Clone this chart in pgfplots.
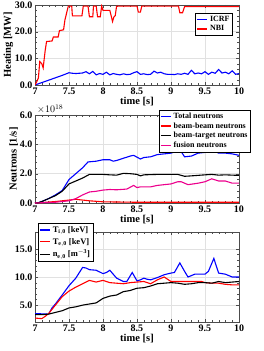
\documentclass[border=0pt]{standalone}
\usepackage{pgfplots}
\pgfplotsset{compat=1.18}
\usepackage{fontspec}
\setmainfont{Liberation Serif}
\definecolor{gridgray}{RGB}{225,225,225}
\pgfplotsset{
  every axis/.append style={
    scale only axis, width=204pt,
    xmin=7, xmax=10,
    xtick={7,7.5,8,8.5,9,9.5,10},
    xticklabels={7,7.5,8,8.5,9,9.5,10},
    minor x tick num=4, minor y tick num=4,
    grid=major, major grid style={gridgray, line width=0.6pt},
    axis line style={black!70, line width=0.6pt},
    tick style={black!70},
    major tick length=3pt, minor tick length=1.6pt,
    tick align=inside,
    font=\fontsize{10}{11}\selectfont\bfseries,
    ticklabel style={font=\fontsize{10}{11}\selectfont\bfseries},
    label style={font=\fontsize{10.5}{12}\selectfont\bfseries},
    xlabel={time [s]},
    xlabel style={yshift=4pt},
    xticklabel style={yshift=1pt},
    yticklabel style={xshift=1pt, /pgf/number format/.cd, fixed, fixed zerofill, precision=1},
    /pgf/number format/assume math mode=true,
    legend style={draw=black, line width=0.5pt, fill=white, inner sep=1pt, row sep=-1.5pt,
      font=\fontsize{8}{9}\selectfont\bfseries, cells={anchor=west}},
    legend image post style={line width=1.2pt},
    legend image code/.code={\draw[#1] (0cm,0cm) -- (0.36cm,0cm);},
    every axis plot/.append style={line width=1.1pt, mark=none},
  }
}
\begin{document}
\begin{tikzpicture}
\useasboundingbox (0,0) rectangle (264pt,351pt);
% ---------- top
\begin{axis}[at={(35pt,266pt)}, anchor=south west, height=80pt,
  ymin=0, ymax=30, ytick={0,10,20,30},
  ylabel={Heating [MW]}, ylabel style={yshift=-5pt},
  legend style={at={(0.97,0.9)}, anchor=north east}]
\addplot[blue] coordinates {
(7.0,0.0) (7.1,0.9) (7.2,1.8) (7.3,2.7) (7.4,3.6) (7.5,4.6) (7.55,4.4) (7.6,4.3) (7.65,4.4) (7.7,4.5) (7.75,5.0) (7.8,4.2) (7.85,5.1) (7.9,3.8) (7.95,4.3) (8.0,4.0) (8.05,4.8) (8.1,3.8) (8.15,4.3) (8.2,4.0) (8.25,3.8) (8.3,4.2) (8.35,3.9) (8.4,4.0) (8.45,4.6) (8.5,5.0) (8.55,4.0) (8.6,4.2) (8.65,3.9) (8.7,4.0) (8.75,5.2) (8.8,4.5) (8.85,4.8) (8.9,4.2) (8.95,4.0) (9.0,4.0) (9.05,3.9) (9.1,4.2) (9.15,4.0) (9.2,4.4) (9.25,4.0) (9.3,5.5) (9.35,4.2) (9.4,4.5) (9.45,4.2) (9.5,5.0) (9.55,4.0) (9.6,4.8) (9.65,4.4) (9.7,5.8) (9.75,4.5) (9.8,4.8) (9.85,4.2) (9.9,5.3) (9.95,4.0) (10.0,4.3)};
\addlegendentry{ICRF}
\addplot[red] coordinates {
(7.0,0.0) (7.03,1.5) (7.05,2.6) (7.07,8.8) (7.1,8.0) (7.12,6.4) (7.15,13.0) (7.17,16.3) (7.25,16.5) (7.27,18.0) (7.34,18.0) (7.36,20.4) (7.42,20.7) (7.44,24.4) (7.49,29.6) (7.54,29.6) (7.55,25.9) (7.69,25.9) (7.71,29.6) (7.78,29.6) (7.8,25.6) (7.85,25.6) (7.86,29.6) (7.9,29.6) (7.92,25.6) (7.96,25.6) (7.98,29.6) (8.0,28.0) (8.1,28.0) (8.12,26.0) (8.14,23.8) (8.16,25.5) (8.18,26.0) (8.2,29.6) (8.5,29.6) (8.52,27.3) (8.55,27.3) (8.57,29.6) (9.11,29.6) (9.13,27.1) (9.17,27.1) (9.2,29.4) (10.0,29.4)};
\addlegendentry{NBI}
\end{axis}
% ---------- middle
\begin{axis}[at={(35pt,148pt)}, anchor=south west, height=88pt,
  ymin=0, ymax=6, ytick={0,2,4,6},
  ylabel={Neutrons [1/s]}, ylabel style={yshift=-5pt},
  legend style={at={(1.058,1.06)}, anchor=north east},
  clip=false]
\addplot[blue] coordinates {
(7.0,0.0) (7.05,0.02) (7.1,0.1) (7.2,0.3) (7.3,0.55) (7.4,0.85) (7.5,1.6) (7.6,2.0) (7.7,2.4) (7.78,2.8) (7.9,2.85) (8.0,2.95) (8.1,2.95) (8.15,2.85) (8.2,2.9) (8.3,3.05) (8.4,3.2) (8.45,3.25) (8.55,3.0) (8.6,3.1) (8.7,3.15) (8.8,3.3) (9.0,3.4) (9.1,3.55) (9.15,3.5) (9.2,3.15) (9.3,3.2) (9.4,3.4) (9.5,3.45) (9.6,3.65) (9.7,3.4) (9.8,3.4) (9.9,3.35) (10.0,3.25)};
\addlegendentry{Total neutrons}
\addplot[red] coordinates {
(7.0,0.0) (7.1,0.03) (7.3,0.1) (7.5,0.2) (7.6,0.25) (7.7,0.2) (7.8,0.15) (8.0,0.08) (8.5,0.05) (10.0,0.05)};
\addlegendentry{beam-beam neutrons}
\addplot[black] coordinates {
(7.0,0.0) (7.05,0.02) (7.1,0.1) (7.2,0.3) (7.3,0.5) (7.4,0.8) (7.5,1.3) (7.6,1.5) (7.7,1.7) (7.8,1.95) (7.9,1.95) (8.0,1.95) (8.1,1.92) (8.2,1.9) (8.3,2.02) (8.4,2.0) (8.5,1.95) (8.55,1.85) (8.6,1.92) (8.8,1.95) (9.0,1.95) (9.1,1.95) (9.2,1.82) (9.3,1.85) (9.5,1.92) (9.6,1.95) (9.7,1.9) (9.8,1.92) (10.0,1.88)};
\addlegendentry{beam-target neutrons}
\addplot[magenta] coordinates {
(7.0,0.0) (7.3,0.05) (7.5,0.15) (7.6,0.3) (7.7,0.55) (7.8,0.75) (7.9,0.8) (8.0,0.88) (8.1,0.92) (8.2,0.9) (8.35,0.95) (8.45,1.2) (8.5,1.05) (8.55,1.1) (8.7,1.1) (8.8,1.2) (9.0,1.3) (9.1,1.45) (9.15,1.45) (9.25,1.25) (9.4,1.35) (9.5,1.45) (9.6,1.65) (9.7,1.5) (9.8,1.5) (9.9,1.35) (10.0,1.35)};
\addlegendentry{fusion neutrons}
\node[anchor=south west, inner sep=0pt, yshift=1pt, font=\fontsize{10}{11}\selectfont\mdseries] at (rel axis cs:0.01,1) {$\times10^{18}$};
\end{axis}
% ---------- bottom
\begin{axis}[at={(35pt,29pt)}, anchor=south west, height=90pt,
  ymin=2, ymax=18, ytick={5,10,15},
  legend style={at={(0.015,1.1)}, anchor=north west, row sep=0.5pt,
    font=\fontsize{8.5}{9}\selectfont\bfseries}]
\addplot[blue] coordinates {
(7.0,3.5) (7.1,3.45) (7.2,3.4) (7.25,4.5) (7.3,5.2) (7.4,6.8) (7.5,8.45) (7.6,9.8) (7.7,11.7) (7.75,11.6) (7.8,11.3) (7.9,11.2) (8.0,10.6) (8.05,10.8) (8.1,11.2) (8.2,9.8) (8.3,9.2) (8.35,9.2) (8.43,10.8) (8.5,9.3) (8.55,9.5) (8.6,9.8) (8.65,9.6) (8.7,9.5) (8.8,9.9) (8.9,10.4) (9.0,10.7) (9.05,10.8) (9.13,12.5) (9.2,11.0) (9.25,10.0) (9.35,10.5) (9.5,10.5) (9.55,11.0) (9.63,13.3) (9.7,10.7) (9.8,10.5) (9.9,10.0) (10.0,10.0)};
\addlegendentry{T$_{\mathbf{i,0}}$ [keV]}
\addplot[red] coordinates {
(7.0,2.7) (7.1,2.6) (7.15,3.0) (7.2,3.5) (7.3,5.0) (7.4,6.5) (7.5,7.5) (7.6,8.2) (7.7,8.8) (7.8,9.4) (7.9,9.1) (8.0,9.4) (8.1,9.0) (8.2,8.9) (8.3,8.8) (8.4,9.0) (8.5,9.1) (8.6,9.2) (8.7,8.8) (8.8,9.5) (8.9,10.0) (9.0,9.2) (9.1,9.2) (9.2,9.2) (9.3,9.2) (9.45,9.2) (9.5,9.0) (9.6,8.9) (9.7,8.9) (9.8,8.7) (9.9,8.6) (10.0,8.6)};
\addlegendentry{T$_{\mathbf{e,0}}$ [keV]}
\addplot[black] coordinates {
(7.0,3.3) (7.1,3.3) (7.2,3.4) (7.3,3.7) (7.4,4.0) (7.5,4.5) (7.6,4.7) (7.7,5.0) (7.8,5.2) (7.9,5.4) (8.0,6.2) (8.1,6.6) (8.2,6.8) (8.3,7.4) (8.4,7.6) (8.5,8.0) (8.6,8.1) (8.7,8.4) (8.8,8.8) (8.9,8.9) (9.0,9.0) (9.1,8.9) (9.2,8.7) (9.3,8.8) (9.4,9.0) (9.5,9.0) (9.6,8.9) (9.7,9.2) (9.8,9.0) (9.9,9.1) (10.0,9.2)};
\addlegendentry{n$_{\mathbf{e,0}}$ [m$^{\mathbf{-3}}$]}
\end{axis}
\end{tikzpicture}
\end{document}
